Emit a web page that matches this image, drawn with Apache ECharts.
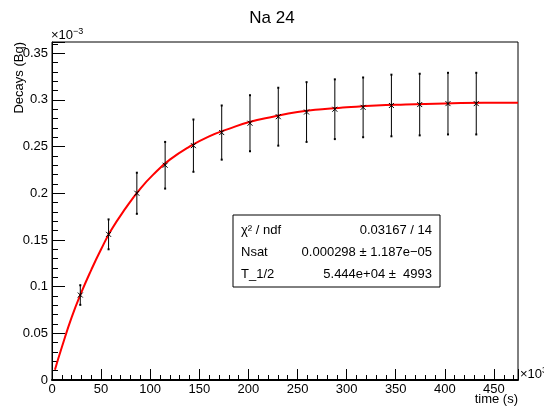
<!DOCTYPE html>
<html><head><meta charset="utf-8">
<script src="https://cdn.jsdelivr.net/npm/echarts@6/dist/echarts.min.js"></script>
<style>html,body{margin:0;padding:0;background:#fff}#c{width:544px;height:410px}</style>
</head><body><div id="c"></div>
<script>
// time in units of 10^3 s, values in units of 10^-3 Bq
var pointTimes = [28.8, 57.6, 86.4, 115.2, 144, 172.8, 201.6, 230.4, 259.2, 288, 316.8, 345.6, 374.4, 403.2, 432];
var pointValues = [0.091, 0.156, 0.200, 0.230, 0.251, 0.265, 0.275, 0.282, 0.287, 0.290, 0.292, 0.294, 0.295, 0.296, 0.296];
var pointErrors = [0.0105, 0.016, 0.022, 0.025, 0.028, 0.029, 0.030, 0.031, 0.032, 0.032, 0.032, 0.033, 0.033, 0.033, 0.033];
var fitTimes = [3, 10, 20, 30, 40, 50, 60, 75, 90, 105, 120, 140, 160, 180, 200, 225, 250, 275, 300, 330, 360, 400, 440, 474.5];
var fitValues = [0.011, 0.035, 0.067, 0.094, 0.118, 0.140, 0.160, 0.184, 0.205, 0.222, 0.236, 0.250, 0.261, 0.269, 0.276, 0.282, 0.287, 0.290, 0.292, 0.294, 0.295, 0.296, 0.297, 0.297];
var statsRows = [["\u03c7\u00b2 / ndf", "0.03167 / 14"], ["Nsat", "0.000298 \u00b1 1.187e\u221205"], ["T_1/2", "5.444e+04 \u00b1  4993"]];

var F = "'Liberation Sans', Arial, sans-serif";
var chart = echarts.init(document.getElementById('c'));
var errData = pointTimes.map(function (t, i) { return [t, pointValues[i], pointErrors[i]]; });
var fitData = fitTimes.map(function (t, i) { return [t, fitValues[i]]; });

var statsGraphics = [{
  type: 'rect', shape: {x: 233, y: 215, width: 207, height: 72},
  style: {fill: '#fff', stroke: '#000', lineWidth: 1}, z: 10
}];
statsRows.forEach(function (r, i) {
  statsGraphics.push({type: 'text', x: 241, y: 230 + i * 22, z: 11,
    style: {text: r[0], font: '13px ' + F, fill: '#000', textAlign: 'left', textVerticalAlign: 'middle'}});
  statsGraphics.push({type: 'text', x: 432, y: 230 + i * 22, z: 11,
    style: {text: r[1], font: '13px ' + F, fill: '#000', textAlign: 'right', textVerticalAlign: 'middle'}});
});

chart.setOption({
  animation: false,
  backgroundColor: '#fff',
  title: {text: 'Na 24', left: 'center', top: 5, textStyle: {fontFamily: F, fontSize: 17, fontWeight: 'normal', color: '#000'}},
  grid: {left: 52, right: 26, top: 42, bottom: 30, show: true, borderColor: '#000', borderWidth: 1},
  xAxis: {
    type: 'value', min: 0, max: 474.5, interval: 50,
    axisLine: {show: true, lineStyle: {color: '#000', width: 2}},
    axisTick: {inside: true, length: 11, lineStyle: {color: '#000'}},
    minorTick: {show: true, splitNumber: 5, length: 5, lineStyle: {color: '#000'}},
    splitLine: {show: false},
    axisLabel: {color: '#000', fontFamily: F, fontSize: 13, margin: 3, showMaxLabel: false}
  },
  yAxis: {
    type: 'value', min: 0, max: 0.362, interval: 0.05,
    axisLine: {show: true, lineStyle: {color: '#000', width: 1}},
    axisTick: {inside: true, length: 13, lineStyle: {color: '#000'}},
    minorTick: {show: true, splitNumber: 5, length: 6, lineStyle: {color: '#000'}},
    splitLine: {show: false},
    axisLabel: {color: '#000', fontFamily: F, fontSize: 13, margin: 4, showMaxLabel: false,
      formatter: function (v) { return String(parseFloat(v.toFixed(3))); }}
  },
  series: [
    {type: 'line', data: fitData, smooth: true, showSymbol: false, symbol: 'none',
      lineStyle: {color: '#ff0000', width: 2}, z: 3},
    {type: 'custom', data: errData, z: 4,
      renderItem: function (params, api) {
        var t = api.value(0), v = api.value(1), e = api.value(2);
        var c = api.coord([t, v]), hi = api.coord([t, v + e]), lo = api.coord([t, v - e]);
        var s = {stroke: '#000', lineWidth: 1};
        return {type: 'group', children: [
          {type: 'line', shape: {x1: c[0], y1: hi[1], x2: c[0], y2: lo[1]}, style: s},
          {type: 'line', shape: {x1: c[0] - 1, y1: hi[1], x2: c[0] + 1, y2: hi[1]}, style: {stroke: '#000', lineWidth: 2}},
          {type: 'line', shape: {x1: c[0] - 1, y1: lo[1], x2: c[0] + 1, y2: lo[1]}, style: {stroke: '#000', lineWidth: 2}},
          {type: 'line', shape: {x1: c[0] - 2.5, y1: c[1] - 2.5, x2: c[0] + 2.5, y2: c[1] + 2.5}, style: s},
          {type: 'line', shape: {x1: c[0] - 2.5, y1: c[1] + 2.5, x2: c[0] + 2.5, y2: c[1] - 2.5}, style: s}
        ]};
      }}
  ],
  graphic: [
    {type: 'text', x: 19, y: 42, rotation: Math.PI / 2,
      style: {text: 'Decays (Bq)', font: '13px ' + F, fill: '#000', textAlign: 'right', textVerticalAlign: 'middle'}},
    {type: 'text', x: 518, y: 399,
      style: {text: 'time (s)', font: '13px ' + F, fill: '#000', textAlign: 'right', textVerticalAlign: 'middle'}},
    {type: 'text', x: 51, y: 35,
      style: {text: '{a|\u00d710}{b|\u22123}', textVerticalAlign: 'middle', textAlign: 'left',
        rich: {a: {font: '13px ' + F, fill: '#000'}, b: {font: '9px ' + F, fill: '#000', verticalAlign: 'top', padding: [0, 0, 6, 0]}}}},
    {type: 'text', x: 520, y: 374,
      style: {text: '{a|\u00d710}{b|3}', textVerticalAlign: 'middle', textAlign: 'left',
        rich: {a: {font: '13px ' + F, fill: '#000'}, b: {font: '9px ' + F, fill: '#000', verticalAlign: 'top', padding: [0, 0, 6, 0]}}}}
  ].concat(statsGraphics)
});
</script></body></html>
